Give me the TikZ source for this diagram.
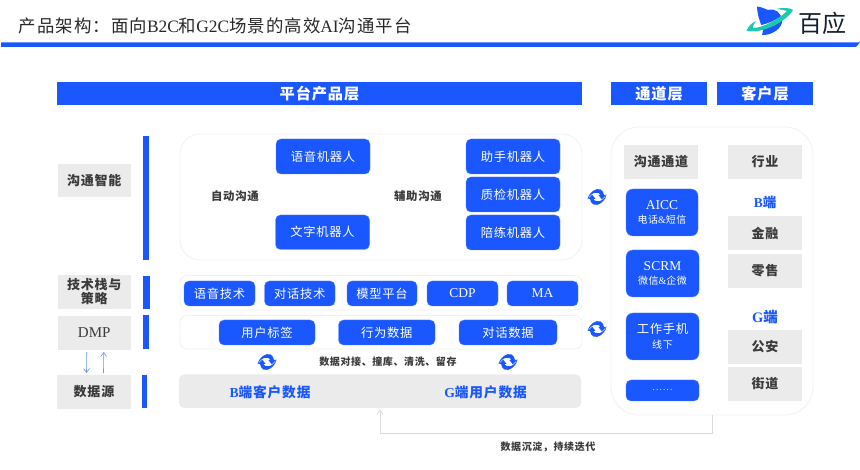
\documentclass[tikz,border=0pt]{standalone}
\usepackage{fontspec}
\usetikzlibrary{arrows.meta}
\setmainfont[LetterSpace=6]{Noto Sans CJK SC}
\newfontfamily\latf{Liberation Serif}
\newfontfamily\dotf[LetterSpace=14]{Liberation Serif}
\newfontfamily\logof{Noto Sans CJK SC}
\newcommand{\lt}[1]{{\latf #1}}
\newcommand{\fz}[1]{\fontsize{#1}{#1}\selectfont}
\definecolor{mainblue}{HTML}{1A57FF}
\definecolor{boxgray}{HTML}{EBEBEB}
\definecolor{panelline}{HTML}{F1F1F3}
\definecolor{txt}{HTML}{3A3A3A}
\definecolor{teal1}{HTML}{1CC8B0}
\definecolor{logotxt}{HTML}{14202E}
\definecolor{linkgray}{HTML}{DADADA}
\tikzset{
  x=1pt,y=-1pt,
  allbox/.style={inner sep=0pt,outer sep=0pt,align=center},
  bluebox/.style={allbox,fill=mainblue,draw=mainblue!75!white,line width=.4pt,rounded corners=5pt,text=white,font=\fz{12.3}},
  tallbox/.style={bluebox,rounded corners=7pt},
  headbox/.style={allbox,fill=mainblue,text=white,font=\fz{15.2}\bfseries},
  graybox/.style={allbox,fill=boxgray,text=txt,font=\fz{13}\bfseries},
  panel/.style={allbox,fill=white,draw=panelline,line width=.8pt},
  barbox/.style={allbox,fill=mainblue},
  lbl/.style={allbox,text=txt,font=\fz{11.4}\bfseries},
  small/.style={allbox,text=txt,font=\fz{10}\bfseries},
  bluelbl/.style={allbox,text=mainblue,font=\fz{13.5}\bfseries},
  swirl/.pic={
    \foreach \r in {0,180}{
      \fill[mainblue,rotate=\r] (-9.5,2.5) .. controls (-8,-5) and (-1,-9.5) .. (3.5,-7.5) .. controls (5.5,-6.5) and (6.8,-4) .. (7,-2) -- (9,-2) -- (4.8,2.4) -- (1.4,-2) -- (3.6,-2) .. controls (2.5,-5) and (-5,-6.5) .. (-9.5,2.5) -- cycle;
    }
  }
}
\newcommand{\bx}[7]{% name x1 y1 x2 y2 style text
  \pgfmathsetmacro{\bxw}{#4-#2}\pgfmathsetmacro{\bxh}{#5-#3}
  \pgfmathsetmacro{\bxx}{(#2+#4)/2}\pgfmathsetmacro{\bxy}{(#3+#5)/2}
  \node[#6,minimum width=\bxw pt,minimum height=\bxh pt] (#1) at (\bxx,\bxy) {#7};
}
\begin{document}
\begin{tikzpicture}
\useasboundingbox (0,0) rectangle (860,470);
\fill[white] (0,0) rectangle (860,470);
% title
\node[allbox,anchor=west,text=txt!70!black,font=\fz{17.4}] (title) at (19,26) {产品架构：面向\lt{B2C}和\lt{G2C}场景的高效\lt{AI}沟通平台};
\fill[mainblue] (1,42.5) -- (860,42.5) -- (856,47) -- (1,47) -- cycle;
% logo
\fill[mainblue] (757,6.5) .. controls (762,7) and (765,9) .. (768,10) .. controls (776,8) and (781,13) .. (782,20) .. controls (783,28) and (772,35.5) .. (762,35) .. controls (766,30) and (758,24) .. (757,6.5) -- cycle;
\draw[white,line width=1.6pt] (752,27) .. controls (765,27) and (780,20) .. (788,12);
\fill[teal1] (746.5,31) .. controls (748,26) and (752,23) .. (756,21) .. controls (754,24) and (752,27) .. (753,28) .. controls (764,28) and (780,18) .. (787,11) .. controls (783,9.5) and (779,9.5) .. (776,9) .. controls (782,7.5) and (790,7.5) .. (793,10) .. controls (790,17) and (768,34) .. (746.5,31) -- cycle;
\node[allbox,text=logotxt,font=\logof\fz{24}] (logotext) at (822.5,23) {百应};
% headers
\bx{h1}{57}{82}{582}{105}{headbox}{平台产品层}
\bx{h2}{611}{82}{707}{105}{headbox}{通道层}
\bx{h3}{717}{82}{813}{105}{headbox}{客户层}
% left labels
\bx{l1}{57.5}{164}{131}{197.5}{graybox}{沟通智能}
\bx{l2}{57.5}{275}{131}{309}{graybox}{技术栈与\\[1pt]策略}
\bx{l3}{57.5}{316}{131}{350}{graybox,font=\fz{15}\latf}{DMP}
\bx{l4}{57}{375}{131}{409}{graybox}{数据源}
% bars
\bx{b1}{143}{136}{149}{260}{barbox}{}
\bx{b2}{143}{276}{149.5}{309}{barbox}{}
\bx{b3}{143}{315.5}{149}{349}{barbox}{}
\bx{b4}{142}{375.5}{147}{408}{barbox}{}
% panels
\bx{p1}{180}{134}{582}{260}{panel,rounded corners=20pt}{}
\bx{p2}{180}{275.5}{582}{310}{panel,rounded corners=7pt}{}
\bx{p3}{180}{315.5}{582}{349}{panel,rounded corners=7pt}{}
\bx{dp}{179}{374.5}{581}{408}{allbox,fill=boxgray,rounded corners=5pt}{}
\bx{rp}{611}{127}{813}{415}{panel,rounded corners=28pt}{}
% row 1
\bx{a1}{276}{139}{370}{174}{bluebox}{语音机器人}
\bx{a2}{275.5}{215}{369.5}{249.5}{bluebox}{文字机器人}
\bx{a3}{466}{139}{560}{174}{bluebox}{助手机器人}
\bx{a4}{466}{177}{560}{212}{bluebox}{质检机器人}
\bx{a5}{466}{215}{560}{250}{bluebox}{陪练机器人}
\node[lbl] (t1) at (235,196) {自动沟通};
\node[lbl] (t2) at (418,196) {辅助沟通};
% row 2
\bx{c1}{184}{281}{255}{306}{bluebox}{语音技术}
\bx{c2}{264.5}{281}{335}{306}{bluebox}{对话技术}
\bx{c3}{347}{281}{417}{306}{bluebox}{模型平台}
\bx{c4}{427}{281}{498}{306}{bluebox,font=\fz{13.5}\latf}{CDP}
\bx{c5}{507}{281}{578}{306}{bluebox,font=\fz{13.5}\latf}{MA}
% row 3
\bx{d1}{219}{320}{315}{345}{bluebox}{用户标签}
\bx{d2}{338.5}{320}{435}{345}{bluebox}{行为数据}
\bx{d3}{459}{320}{557}{345}{bluebox}{对话数据}
% data source
\node[bluelbl,font=\fz{13.7}\bfseries] (e1) at (270,392) {\lt{B}端客户数据};
\node[bluelbl,font=\fz{13.7}\bfseries] (e2) at (485.5,392) {\lt{G}端用户数据};
\node[small] (t3) at (388,362) {数据对接、撞库、清洗、留存};
\node[small] (t4) at (548,447) {数据沉淀，持续迭代};
% swirls
\pic at (267,362) {swirl};
\pic at (508,362) {swirl};
\pic at (597,197) {swirl};
\pic at (597,329) {swirl};
% arrows between DMP and data source
\draw[mainblue!65!white,line width=.6pt,-{Straight Barb[length=4pt,width=6pt]}] ([xshift=-7.5pt,yshift=-2pt]l3.south) -- ([xshift=-7.5pt,yshift=2pt]l4.north);
\draw[mainblue!65!white,line width=.6pt,-{Straight Barb[length=4pt,width=6pt]}] ([xshift=9.5pt,yshift=2pt]l4.north) -- ([xshift=9.5pt,yshift=-2pt]l3.south);
% feedback
\draw[linkgray,line width=.8pt,-{Straight Barb[length=4pt,width=6pt]}] (rp.south) -- ++(0,18) -| ([yshift=-1.5pt]dp.south);
% channel column
\bx{f1}{624}{145}{698}{179}{graybox}{沟通通道}
\bx{f2}{626}{189}{698}{236}{tallbox}{{\fz{13.5}\latf AICC}\\[1.5pt]{\fz{10}电话\lt{\&}短信}}
\bx{f3}{626}{250}{699}{297}{tallbox}{{\fz{13.5}\latf SCRM}\\[1.5pt]{\fz{10}微信\lt{\&}企微}}
\bx{f4}{626}{313}{699}{360}{tallbox}{工作手机\\[2.5pt]{\fz{10}线下}}
\bx{f5}{626}{380}{699}{401}{bluebox,font=\fz{9}\dotf}{......}
% customer column
\bx{g1}{728}{145}{802}{179}{graybox}{行业}
\node[bluelbl] (g2) at (765,202) {\lt{B}端};
\bx{g3}{728}{216}{802}{250}{graybox}{金融}
\bx{g4}{728}{254}{802}{288}{graybox}{零售}
\node[bluelbl,font=\fz{14.5}\bfseries] (g5) at (765,317) {\lt{G}端};
\bx{g6}{728}{330}{802}{364}{graybox}{公安}
\bx{g7}{728}{367}{802}{401}{graybox}{街道}
\end{tikzpicture}
\end{document}
